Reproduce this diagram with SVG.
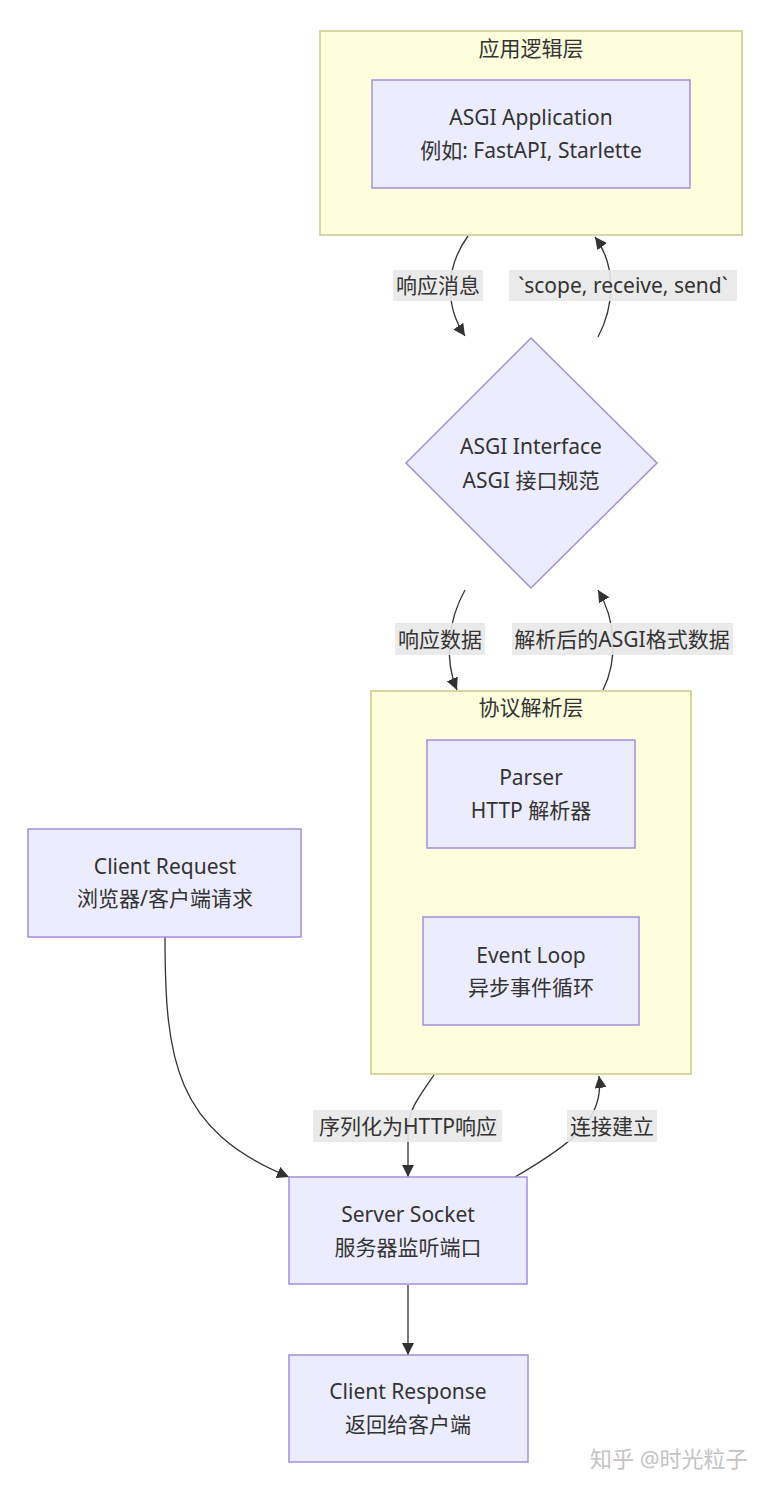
<svg xmlns="http://www.w3.org/2000/svg" width="776" height="1490" viewBox="0 0 776 1490">
<style>
text{font-family:"Noto Sans","Noto Sans CJK SC",sans-serif;fill:#333;font-size:21px;text-anchor:middle;dominant-baseline:central}
.cluster{fill:#ffffde;stroke:#c9c98a;stroke-width:1.5}
.node{fill:#ececff;stroke:#a58fdc;stroke-width:1.5}
.edge{fill:none;stroke:#333;stroke-width:1.3}
.lbl{fill:#e8e8e8;opacity:0.9}
.wm{fill:#c4c4c4;font-size:22px;text-anchor:start}
</style>
<defs>
<marker id="arr" viewBox="0 0 10 10" refX="10" refY="5" markerUnits="userSpaceOnUse" markerWidth="12" markerHeight="12" orient="auto">
<path d="M0,0 L10,5 L0,10 z" fill="#333"/>
</marker>
</defs>
<rect width="776" height="1490" fill="#fff"/>

<g id="app-layer">
<rect class="cluster" x="320" y="31" width="422" height="204"/>
<text x="531" y="48">应用逻辑层</text>
</g>
<g id="proto-layer">
<rect class="cluster" x="371" y="691" width="320" height="383"/>
<text x="531" y="707">协议解析层</text>
</g>

<g id="connectors">
<path class="edge" d="M468,236 C446,266 444,305 465,336" marker-end="url(#arr)"/>
<path class="edge" d="M598,337 C615,305 616,265 595,237" marker-end="url(#arr)"/>
<path class="edge" d="M465,590 C448,620 444,660 457,690" marker-end="url(#arr)"/>
<path class="edge" d="M603,690 C618,660 616,620 598,590" marker-end="url(#arr)"/>
<path class="edge" d="M165,937 C165,1060 175,1130 289,1177" marker-end="url(#arr)"/>
<path class="edge" d="M434,1075 C420,1095 408,1110 408,1130 L408,1177" marker-end="url(#arr)"/>
<path class="edge" d="M515,1177 C570,1145 605,1120 599,1076" marker-end="url(#arr)"/>
<path class="edge" d="M408,1285 L408,1355" marker-end="url(#arr)"/>
<rect class="lbl" x="393" y="270" width="90" height="31"/>
<text x="438" y="285">响应消息</text>
<rect class="lbl" x="509" y="270" width="228" height="31"/>
<text x="623" y="285">`scope, receive, send`</text>
<rect class="lbl" x="395" y="623" width="90" height="32"/>
<text x="440" y="639">响应数据</text>
<rect class="lbl" x="512" y="623" width="221" height="32"/>
<text x="622" y="639">解析后的ASGI格式数据</text>
<rect class="lbl" x="313" y="1110" width="189" height="32"/>
<text x="408" y="1126">序列化为HTTP响应</text>
<rect class="lbl" x="567" y="1110" width="90" height="32"/>
<text x="612" y="1126">连接建立</text>
</g>

<g id="asgi-app">
<rect class="node" x="372" y="80" width="318" height="108"/>
<text x="531" y="117">ASGI Application</text>
<text x="531" y="150">例如: FastAPI, Starlette</text>
</g>
<g id="asgi-interface">
<polygon class="node" points="531,338 657,463 531,588 406,463"/>
<text x="531" y="446">ASGI Interface</text>
<text x="531" y="480">ASGI 接口规范</text>
</g>
<g id="parser">
<rect class="node" x="427" y="740" width="208" height="108"/>
<text x="531" y="777">Parser</text>
<text x="531" y="810">HTTP 解析器</text>
</g>
<g id="event-loop">
<rect class="node" x="423" y="917" width="216" height="108"/>
<text x="531" y="955">Event Loop</text>
<text x="531" y="987">异步事件循环</text>
</g>
<g id="client-request">
<rect class="node" x="28" y="829" width="273" height="108"/>
<text x="165" y="866">Client Request</text>
<text x="165" y="898">浏览器/客户端请求</text>
</g>
<g id="server-socket">
<rect class="node" x="289" y="1177" width="238" height="107"/>
<text x="408" y="1214">Server Socket</text>
<text x="408" y="1247">服务器监听端口</text>
</g>
<g id="client-response">
<rect class="node" x="289" y="1355" width="239" height="107"/>
<text x="408" y="1391">Client Response</text>
<text x="408" y="1424">返回给客户端</text>
</g>
<text class="wm" x="590" y="1458">知乎 @时光粒子</text>
</svg>
